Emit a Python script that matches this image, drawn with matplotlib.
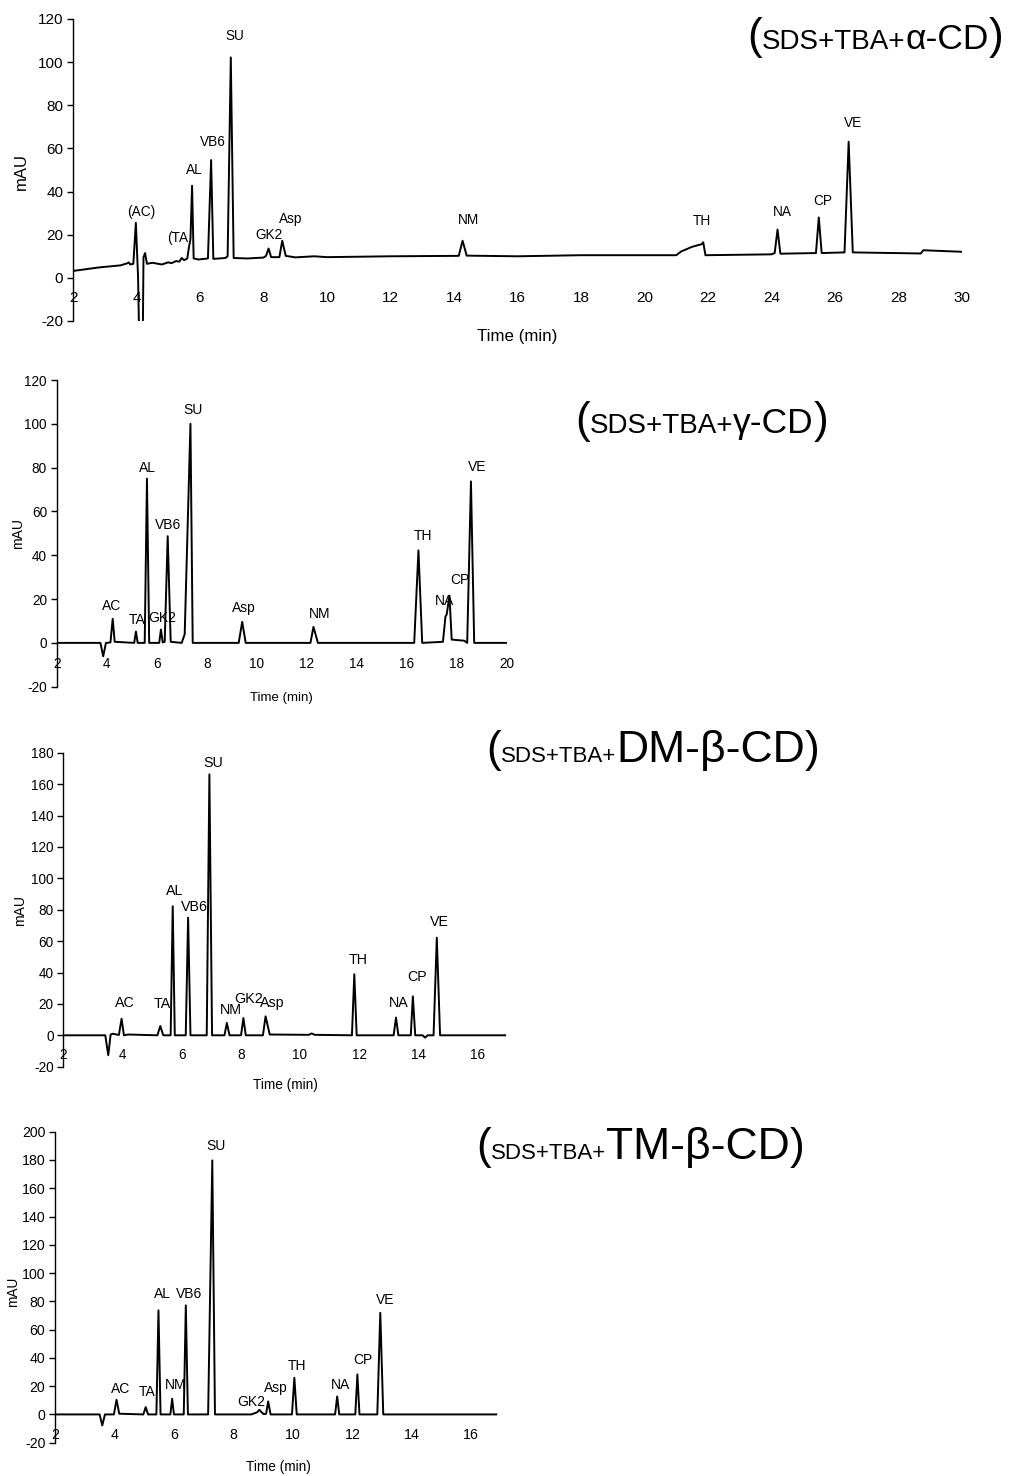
import matplotlib
matplotlib.use("Agg")
import matplotlib.pyplot as plt

plt.rcParams['font.family'] = ['Liberation Sans', 'DejaVu Sans']
plt.rcParams['axes.unicode_minus'] = False

W, H = 1009, 1476

# ---------------- DATA ----------------
# Panel 1: SDS+TBA+alpha-CD  (trace vertices: time [min], signal [mAU])
t1 = [2.0, 2.8, 3.5, 3.72, 3.76, 3.8, 3.9, 3.98, 4.05, 4.08, 4.2, 4.22, 4.27, 4.33, 4.5,
      4.8, 5.0, 5.1, 5.25, 5.35, 5.42, 5.5, 5.6, 5.65, 5.7, 5.75, 5.8, 5.95, 6.25, 6.35,
      6.42, 6.8, 6.87, 6.97, 7.06, 7.5, 8.0, 8.08, 8.16, 8.24, 8.5, 8.59, 8.7, 9.0, 9.6,
      10.0, 12.0, 14.15, 14.27, 14.4, 16.0, 18.0, 21.0, 21.15, 21.5, 21.8, 21.85, 21.92,
      24.0, 24.1, 24.19, 24.28, 25.4, 25.49, 25.58, 26.3, 26.43, 26.56, 28.7, 28.78, 29.97]
s1 = [3.2, 4.8, 5.8, 6.8, 7.2, 6.2, 6.5, 25.5, 0.0, -25.0, -25.0, 9.5, 11.5, 6.5, 7.0,
      6.2, 7.2, 6.8, 7.8, 7.5, 9.2, 8.2, 9.0, 14.0, 18.0, 42.7, 9.0, 8.5, 9.0, 54.6,
      8.8, 9.2, 10.0, 102.2, 9.2, 9.0, 9.4, 10.2, 13.6, 9.6, 9.6, 17.2, 10.2, 9.5, 10.0,
      9.6, 10.0, 10.2, 17.2, 10.3, 10.0, 10.5, 10.5, 12.2, 14.4, 15.6, 16.5, 10.5,
      10.9, 11.5, 22.4, 11.2, 11.5, 28.0, 11.5, 11.8, 63.1, 11.8, 11.3, 12.8, 12.1]
names1 = ['(AC)', '(TA', 'AL', 'VB6', 'SU', 'GK2', 'Asp', 'NM', 'TH', 'NA', 'CP', 'VE']

# Panel 2: SDS+TBA+gamma-CD
t2 = [2.0, 3.75, 3.86, 3.97, 4.15, 4.24, 4.32, 5.1, 5.17, 5.24, 5.52, 5.61, 5.7, 6.1,
      6.17, 6.24, 6.32, 6.44, 6.56, 7.0, 7.12, 7.35, 7.44, 9.28, 9.42, 9.56, 12.15, 12.27,
      12.45, 16.3, 16.47, 16.62, 17.45, 17.55, 17.6, 17.71, 17.8, 18.3, 18.42, 18.57,
      18.7, 20.0]
s2 = [0.0, 0.0, -6.1, 0.0, 0.2, 11.0, 0.5, 0.0, 5.2, 0.0, 0.0, 75.0, 0.0, 0.0,
      6.1, 0.2, 0.5, 48.7, 0.5, 0.0, 4.0, 100.0, 0.0, 0.0, 9.6, 0.0, 0.0, 7.3,
      0.0, 0.0, 42.2, 0.0, 0.5, 12.0, 13.0, 21.6, 1.5, 1.0, 0.0, 73.7,
      0.0, 0.0]
names2 = ['AC', 'TA', 'GK2', 'AL', 'VB6', 'SU', 'Asp', 'NM', 'TH', 'NA', 'CP', 'VE']

# Panel 3: SDS+TBA+DM-beta-CD
t3 = [2.0, 3.42, 3.52, 3.6, 3.68, 3.88, 3.97, 4.05, 4.2, 5.18, 5.28, 5.38, 5.63, 5.70,
      5.77, 6.14, 6.22, 6.3, 6.85, 6.94, 7.03, 7.45, 7.53, 7.62, 8.01, 8.09, 8.17, 8.75,
      8.84, 8.98, 10.3, 10.4, 10.5, 11.76, 11.84, 11.92, 13.17, 13.25, 13.33, 13.75,
      13.82, 13.9, 14.15, 14.23, 14.32, 14.52, 14.63, 14.74, 16.94]
s3 = [0.0, 0.0, -12.7, 0.5, 1.0, 0.2, 10.6, 0.0, 0.5, 0.0, 5.9, 0.0, 0.0, 82.2,
      0.0, 0.0, 74.9, 0.0, 0.0, 166.2, 0.0, 0.0, 7.9, 0.0, 0.0, 11.0, 0.0, 0.0,
      12.1, 0.5, 0.3, 1.2, 0.3, 0.0, 38.9, 0.0, 0.0, 11.3, 0.0, 0.0,
      24.8, 0.0, 0.0, -1.5, 0.0, 0.0, 62.2, 0.0, 0.0]
names3 = ['AC', 'TA', 'AL', 'VB6', 'SU', 'NM', 'GK2', 'Asp', 'TH', 'NA', 'CP', 'VE']

# Panel 4: SDS+TBA+TM-beta-CD
t4 = [2.0, 3.5, 3.59, 3.68, 3.98, 4.07, 4.16, 4.97, 5.05, 5.13, 5.41, 5.48, 5.55, 5.88,
      5.94, 6.0, 6.33, 6.40, 6.47, 7.15, 7.29, 7.38, 8.6, 8.8, 8.87, 8.95, 9.02, 9.1,
      9.17, 9.25, 9.97, 10.05, 10.13, 11.42, 11.49, 11.56, 12.1, 12.17, 12.24, 12.84,
      12.94, 13.04, 16.84]
s4 = [0.0, 0.0, -7.8, 0.0, 0.0, 10.4, 0.5, 0.0, 5.2, 0.0, 0.0, 73.6, 0.0, 0.0,
      11.1, 0.0, 0.0, 77.1, 0.0, 0.0, 179.7, 0.0, 0.0, 1.5, 3.3, 1.5, 0.2, 0.5,
      9.2, 0.0, 0.0, 25.9, 0.0, 0.0, 12.7, 0.0, 0.0, 28.3, 0.0, 0.0,
      71.9, 0.0, 0.0]
names4 = ['AC', 'TA', 'AL', 'NM', 'VB6', 'SU', 'GK2', 'Asp', 'TH', 'NA', 'CP', 'VE']

xticks1 = list(range(2, 31, 2)); yticks1 = list(range(-20, 121, 20))
xticks2 = list(range(2, 21, 2)); yticks2 = list(range(-20, 121, 20))
xticks3 = list(range(2, 17, 2)); yticks3 = list(range(-20, 181, 20))
xticks4 = list(range(2, 17, 2)); yticks4 = list(range(-20, 201, 20))

# ---------------- LAYOUT ----------------
# label anchor positions (data coords, centre of text)
lab1 = [(4.16, 30.6), (5.29, 18.7), (5.81, 50.2), (6.42, 63.0), (7.09, 112.0), (8.18, 19.8),
        (8.85, 27.5), (14.45, 27.0), (21.8, 26.4), (24.34, 30.6), (25.61, 35.7), (26.58, 71.9)]
lab2 = [(4.2, 17.0), (5.2, 10.4), (6.22, 11.4), (5.64, 79.9), (6.47, 53.9), (7.47, 106.5),
        (9.5, 16.0), (12.5, 13.2), (16.67, 48.7), (17.53, 19.0), (18.12, 28.6), (18.8, 80.4)]
lab3 = [(4.07, 20.6), (5.36, 20.2), (5.78, 91.7), (6.43, 81.7), (7.07, 173.5), (7.67, 16.3),
        (8.26, 23.4), (9.08, 20.6), (11.98, 47.8), (13.33, 20.6), (13.95, 37.2), (14.72, 72.2)]
lab4 = [(4.21, 18.2), (5.1, 15.8), (5.62, 85.4), (6.06, 20.5), (6.5, 85.4), (7.43, 189.6),
        (8.6, 8.7), (9.43, 18.9), (10.15, 34.0), (11.6, 20.5), (12.36, 38.7), (13.11, 80.7)]

panels = [
    dict(px=(73, 962, 19, 321), t=t1, s=s1, names=names1, lab=lab1, xt=xticks1, yt=yticks1,
         xlim=(2, 30), tick_fs=11, lab_fs=9.8, xl_fs=12.2, yl_fs=12, xpad=9.5,
         xlab_px=337, ylab_px=(21, 172),
         title=[('(', 32), ('SDS+TBA+', 20), ('\u03b1-CD', 25.5), (')', 32)], title_xy=(747, 49)),
    dict(px=(56.7, 506.7, 380, 686.7), t=t2, s=s2, names=names2, lab=lab2, xt=xticks2, yt=yticks2,
         xlim=(2, 20), tick_fs=9.8, lab_fs=10, xl_fs=9.5, yl_fs=10, xpad=10,
         xlab_px=698, ylab_px=(18, 533),
         title=[('(', 32), ('SDS+TBA+', 20), ('\u03b3-CD', 25.5), (')', 32)], title_xy=(575, 433)),
    dict(px=(63.3, 506.9, 752.7, 1066.7), t=t3, s=s3, names=names3, lab=lab3, xt=xticks3, yt=yticks3,
         xlim=(2, 17), tick_fs=9.8, lab_fs=10.3, xl_fs=9.8, yl_fs=10, xpad=9.5,
         xlab_px=1085, ylab_px=(20, 910),
         title=[('(', 32), ('SDS+TBA+', 16), ('DM-\u03b2-CD', 32), (')', 32)], title_xy=(486, 762)),
    dict(px=(55, 501, 1131.7, 1442.7), t=t4, s=s4, names=names4, lab=lab4, xt=xticks4, yt=yticks4,
         xlim=(2, 17), tick_fs=10.2, lab_fs=10, xl_fs=9.8, yl_fs=9.8, xpad=10,
         xlab_px=1467, ylab_px=(13, 1292),
         title=[('(', 32), ('SDS+TBA+', 16), ('TM-\u03b2-CD', 32), (')', 32)], title_xy=(476, 1159)),
]

fig = plt.figure(figsize=(W / 100, H / 100), dpi=100)
fig.patch.set_facecolor('white')
renderer = fig.canvas.get_renderer()

for p in panels:
    x0, x1, ytop, ybot = p['px']
    ax = fig.add_axes([x0 / W, 1 - ybot / H, (x1 - x0) / W, (ybot - ytop) / H])
    ax.plot(p['t'], p['s'], color='black', lw=1.4, solid_joinstyle='round')
    ax.set_xlim(*p['xlim'])
    ax.set_ylim(p['yt'][0], p['yt'][-1])
    ax.set_xticks(p['xt'])
    ax.set_yticks(p['yt'])
    for sp in ('top', 'right'):
        ax.spines[sp].set_visible(False)
    ax.spines['bottom'].set_position(('data', 0))
    ax.spines['bottom'].set_color('none')
    ax.spines['left'].set_linewidth(1.0)
    ax.tick_params(axis='x', length=0, pad=p['xpad'], labelsize=p['tick_fs'])
    ax.tick_params(axis='y', direction='out', length=4, width=1.0, pad=3, labelsize=p['tick_fs'])
    for name, (lx, ly) in zip(p['names'], p['lab']):
        ax.text(lx, ly, name, ha='center', va='center', fontsize=p['lab_fs'])
    # axis titles
    fig.text(((x0 + x1) / 2) / W, 1 - p['xlab_px'] / H, 'Time (min)', ha='center', va='center',
             fontsize=p['xl_fs'])
    fig.text(p['ylab_px'][0] / W, 1 - p['ylab_px'][1] / H, 'mAU', ha='center', va='center',
             rotation=90, fontsize=p['yl_fs'])
    # panel title with mixed sizes
    cx, base = p['title_xy']
    for txt, fs in p['title']:
        tt = fig.text(cx / W, 1 - base / H, txt, ha='left', va='baseline', fontsize=fs)
        bb = tt.get_window_extent(renderer)
        cx = bb.x1

fig.savefig('out.png', dpi=100, facecolor='white')
